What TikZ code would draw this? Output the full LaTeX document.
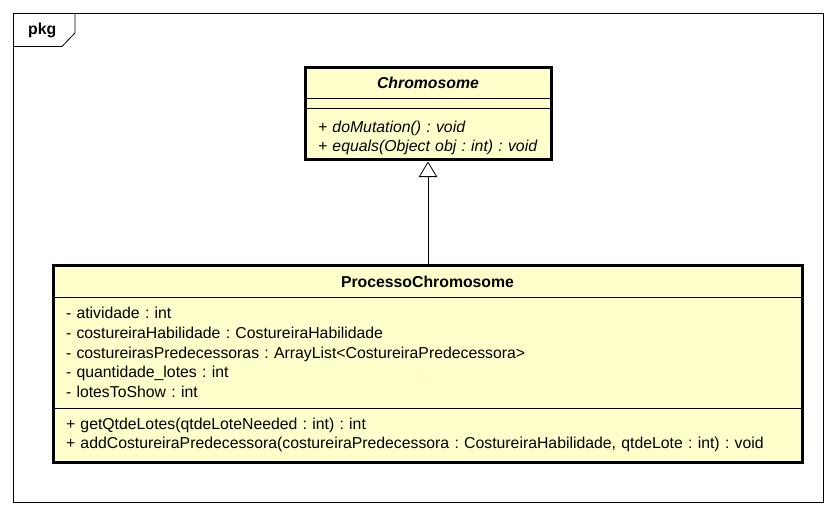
\documentclass[tikz,border=0pt]{standalone}
\usepackage{fontspec}
\setmainfont{Liberation Sans}
\usetikzlibrary{positioning,arrows.meta}
\definecolor{classfill}{RGB}{255,255,204}
\frenchspacing

\begin{document}
\begin{tikzpicture}[x=1pt, y=-1pt,
    part/.style={draw, fill=classfill, line width=0.8pt, outer sep=0pt,
      inner xsep=13pt, inner ysep=0pt, align=left,
      font=\fontsize{15.8}{19.6}\selectfont\frenchspacing},
    title/.style={part, align=center, font=\fontsize{15.8}{19.6}\selectfont\bfseries},
    border/.style={line width=3pt},
    >={Triangle[open, length=15.5pt, width=18.5pt]}]
    \useasboundingbox (0,0) rectangle (838,516);
    % package frame
    \draw[line width=0.8pt] (13,13) rectangle (823,502);
    \draw[line width=0.8pt] (13,46.5) -- (62,46.5) -- (75,33) -- (75,13);
    \node[anchor=base west, inner sep=0pt, font=\fontsize{15.8}{19.6}\selectfont\bfseries]
      (pkg) at (28,35) {pkg};
    % Chromosome
    \node[title, text width=220pt, minimum height=30pt, anchor=north west]
      (chrName) at (305,68) {\itshape Chromosome};
    \node[part, text width=220pt, minimum height=10pt, below=0pt of chrName] (chrAttr) {};
    \node[part, text width=220pt, minimum height=52pt, below=0pt of chrAttr] (chrOps)
      {\rule{0pt}{19pt}\itshape + doMutation() : void\\ \itshape + equals(Object obj : int) : void};
    \draw[border] (chrName.north west) rectangle (chrOps.south east);
    % ProcessoChromosome
    \node[title, text width=723pt, minimum height=32pt, anchor=north west]
      (procName) at (53,265) {\rule{0pt}{14pt}ProcessoChromosome};
    \node[part, text width=723pt, minimum height=111pt, below=0pt of procName] (procAttr)
      {- atividade : int\\
       - costureiraHabilidade : CostureiraHabilidade\\
       - costureirasPredecessoras : ArrayList<CostureiraPredecessora>\\
       - quantidade\_lotes : int\\
       - lotesToShow : int};
    \node[part, text width=723pt, minimum height=54pt, below=0pt of procAttr] (procOps)
      {+ getQtdeLotes(qtdeLoteNeeded : int) : int\\
       + addCostureiraPredecessora(costureiraPredecessora : CostureiraHabilidade, qtdeLote : int) : void};
    \draw[border] (procName.north west) rectangle (procOps.south east);
    % generalization
    \draw[->, line width=0.8pt, shorten >=1.5pt] (procName.north -| chrOps.south) -- (chrOps.south);
\end{tikzpicture}
\end{document}
